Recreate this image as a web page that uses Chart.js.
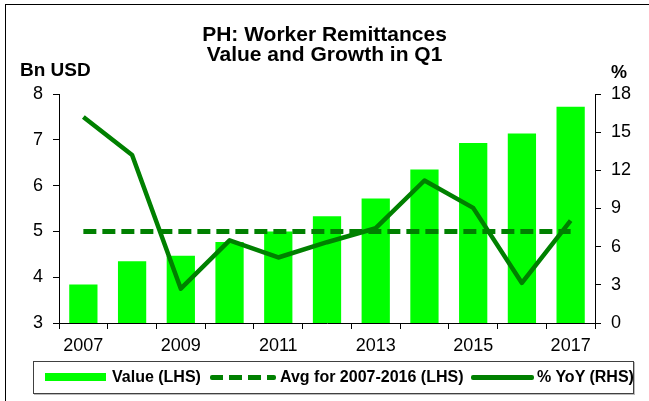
<!DOCTYPE html>
<html>
<head>
<meta charset="utf-8">
<script src="https://cdn.jsdelivr.net/npm/chart.js@4/dist/chart.umd.min.js"></script>
<style>
  html, body { margin:0; padding:0; background:#fff; }
  body { width:649px; height:401px; position:relative; overflow:hidden; font-family:"Liberation Sans", Arial, sans-serif; }
  #c { position:absolute; left:0; top:0; }
  .frame { position:absolute; left:5px; top:4px; width:660px; height:420px; border-left:1px solid #000; border-top:1px solid #000; }
  .t { position:absolute; font-weight:bold; color:#000; white-space:nowrap; }
  #title { left:0; width:649px; top:24px; text-align:center; font-size:21px; line-height:20px; }
  #lunit { left:20px; top:59px; font-size:19px; }
  #runit { left:611px; top:62px; font-size:18px; }
  #legend { position:absolute; left:33px; top:361px; width:599px; height:31px; border:1px solid #404040; box-shadow:1px 1px 0 #bbb; }
  .lg { position:absolute; font-size:16px; font-weight:bold; top:6px; white-space:nowrap; }
  .sw { position:absolute; }
</style>
</head>
<body>
<div class="frame"></div>
<canvas id="c" width="649" height="401"></canvas>
<div class="t" id="title">PH: Worker Remittances<br>Value and Growth in Q1</div>
<div class="t" id="lunit">Bn USD</div>
<div class="t" id="runit">%</div>
<div id="legend">
  <div class="sw" style="left:11px;top:11px;width:61px;height:8px;background:#00ff00;"></div>
  <div class="lg" style="left:78px;">Value (LHS)</div>
  <div class="sw" style="left:176px;top:13px;width:66px;height:5px;border-radius:2px;background:repeating-linear-gradient(90deg,#008000 0,#008000 13px,transparent 13px,transparent 19px);"></div>
  <div class="lg" style="left:246px;">Avg for 2007-2016 (LHS)</div>
  <div class="sw" style="left:437px;top:13px;width:63px;height:5px;background:#008000;border-radius:2px;"></div>
  <div class="lg" style="left:503px;">% YoY (RHS)</div>
</div>
<script>
const years = ['2007','2008','2009','2010','2011','2012','2013','2014','2015','2016','2017'];
const valueBn = [3.84, 4.35, 4.47, 4.77, 5.00, 5.33, 5.72, 6.35, 6.93, 7.14, 7.72];
const avgBn = [5.0, 5.0, 5.0, 5.0, 5.0, 5.0, 5.0, 5.0, 5.0, 5.0, 5.0];
const yoyPct = [16.2, 13.2, 2.7, 6.5, 5.15, 6.35, 7.45, 11.2, 9.05, 3.15, 8.05];
const leftTicks = [3, 4, 5, 6, 7, 8];
const rightTicks = [0, 3, 6, 9, 12, 15, 18];

const FONT = "'Liberation Sans', Arial, sans-serif";

new Chart(document.getElementById('c'), {
  data: {
    labels: years,
    datasets: [
      { type:'line', label:'% YoY (RHS)', data:yoyPct, yAxisID:'yR', borderColor:'#008000', borderWidth:4.5, pointRadius:0, tension:0, order:1, borderJoinStyle:'round' },
      { type:'line', label:'Avg for 2007-2016 (LHS)', data:avgBn, yAxisID:'yL', borderColor:'#008000', borderWidth:5, borderDash:[13,6], pointRadius:0, tension:0, order:2 },
      { type:'bar', label:'Value (LHS)', data:valueBn, yAxisID:'yL', backgroundColor:'#00ff00', categoryPercentage:1, barPercentage:0.58, order:3 }
    ]
  },
  options: {
    responsive:false,
    animation:false,
    layout:{ padding:{ top:94, left:0, right:0, bottom:0 } },
    plugins:{ legend:{display:false}, tooltip:{enabled:false}, title:{display:false} },
    scales:{
      x:{
        offset:true,
        grid:{ offset:true, drawOnChartArea:false, drawTicks:true, tickLength:6, color:'#000' },
        border:{ color:'#000', width:1 },
        ticks:{ autoSkip:false, maxRotation:0, padding:6, color:'#000', font:{ family:FONT, size:18 },
          callback:(v,i)=> i%2===0 ? years[i] : '' },
        afterFit:(s)=>{ s.height = 78; }
      },
      yL:{
        position:'left', min:3, max:8,
        afterBuildTicks:(s)=>{ s.ticks = leftTicks.map(v=>({value:v})); },
        grid:{ drawOnChartArea:false, drawTicks:true, tickLength:6, color:'#000' },
        border:{ color:'#000', width:1 },
        ticks:{ padding:10, color:'#000', font:{ family:FONT, size:18 } },
        afterFit:(s)=>{ s.width = 59; }
      },
      yR:{
        position:'right', min:0, max:18,
        afterBuildTicks:(s)=>{ s.ticks = rightTicks.map(v=>({value:v})); },
        grid:{ drawOnChartArea:false, drawTicks:true, tickLength:6, color:'#000' },
        border:{ color:'#000', width:1 },
        ticks:{ padding:10, color:'#000', font:{ family:FONT, size:18 } },
        afterFit:(s)=>{ s.width = 54; }
      }
    }
  }
});
</script>
</body>
</html>
